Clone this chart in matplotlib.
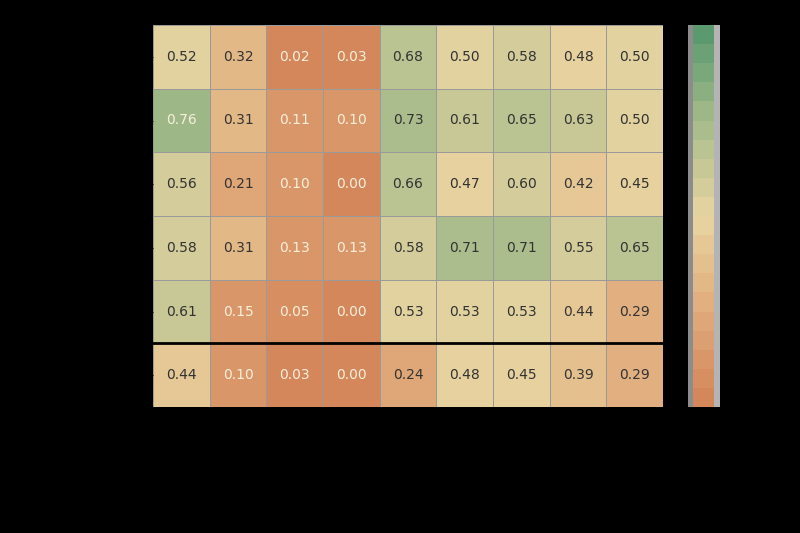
import numpy as np
import matplotlib
matplotlib.use('Agg')
import matplotlib.pyplot as plt
from matplotlib.colors import LinearSegmentedColormap, BoundaryNorm
from matplotlib.patches import Rectangle

# Значения ячеек (6 строк x 9 столбцов)
row1 = [0.52, 0.32, 0.02, 0.03, 0.68, 0.50, 0.58, 0.48, 0.50]
row2 = [0.76, 0.31, 0.11, 0.10, 0.73, 0.61, 0.65, 0.63, 0.50]
row3 = [0.56, 0.21, 0.10, 0.00, 0.66, 0.47, 0.60, 0.42, 0.45]
row4 = [0.58, 0.31, 0.13, 0.13, 0.58, 0.71, 0.71, 0.55, 0.65]
row5 = [0.61, 0.15, 0.05, 0.00, 0.53, 0.53, 0.53, 0.44, 0.29]
row6 = [0.44, 0.10, 0.03, 0.00, 0.24, 0.48, 0.45, 0.39, 0.29]

data = np.array([row1, row2, row3, row4, row5, row6])
n_rows, n_cols = data.shape

# Палитра: оранжевый -> бежевый -> зелёный, 20 ступеней
cmap = LinearSegmentedColormap.from_list(
    'orange_green',
    [(0.0, '#d4875a'), (0.25, '#e1ad7e'), (0.5, '#e8d5a2'),
     (0.75, '#a9bc8c'), (1.0, '#5a9a6e')], N=20)
norm = BoundaryNorm(np.linspace(0, 1, 21), cmap.N)

fig = plt.figure(figsize=(8, 5.33), dpi=100)
fig.patch.set_facecolor('black')

ax = fig.add_axes([153 / 800, 1 - 407 / 533, 510 / 800, 382 / 533])
mesh = ax.pcolormesh(data, cmap=cmap, norm=norm, edgecolors='#9a9a9a', linewidth=0.4)
ax.set_xlim(0, n_cols)
ax.set_ylim(n_rows, 0)

# Подписи значений в ячейках
for i in range(n_rows):
    for j in range(n_cols):
        v = data[i, j]
        color = '#f7efdc' if (v < 0.18 or v > 0.74) else '#333333'
        ax.text(j + 0.5, i + 0.5, f'{v:.2f}', ha='center', va='center',
                fontsize=10, color=color)

# Черная линия, отделяющая последнюю строку
ax.axhline(n_rows - 1, color='black', linewidth=2)

ax.set_xticks(np.arange(n_cols) + 0.5)
ax.set_yticks(np.arange(n_rows) + 0.5)
ax.set_xticklabels([])
ax.set_yticklabels([])
for s in ax.spines.values():
    s.set_visible(False)

# Серые полосы по бокам шкалы
fig.patches.append(Rectangle((688 / 800, 1 - 407 / 533), 5 / 800, 382 / 533,
                             transform=fig.transFigure, facecolor='#8c8c8c',
                             edgecolor='none', zorder=0))
fig.patches.append(Rectangle((714 / 800, 1 - 407 / 533), 6 / 800, 382 / 533,
                             transform=fig.transFigure, facecolor='#b4b4b4',
                             edgecolor='none', zorder=0))

cax = fig.add_axes([693 / 800, 1 - 407 / 533, 21 / 800, 382 / 533])
cbar = fig.colorbar(mesh, cax=cax, ticks=[0, 0.2, 0.4, 0.6, 0.8, 1.0])
cbar.outline.set_visible(False)
cax.tick_params(colors='black')

fig.savefig('out.png', dpi=100, facecolor='black')
